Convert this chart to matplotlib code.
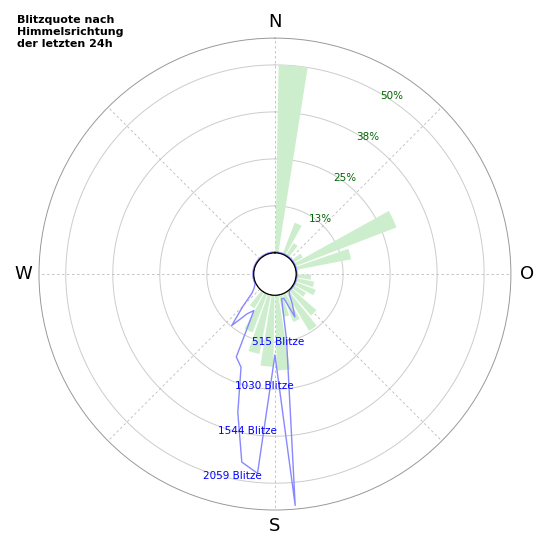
import numpy as np
import matplotlib.pyplot as plt

# Quote in % per 10°-Sektor (Mittelpunkt des Sektors)
sector_deg = [5, 25, 35, 55, 65, 75, 95, 105, 115, 125, 135, 145, 155, 165, 175, 185, 195, 205, 215]
quote_pct = [50, 9, 4, 3, 29, 15, 4, 5, 6, 4, 9, 12, 8, 6, 20, 19, 16, 11, 5]

# Blitze pro 5°-Richtung
line_deg = list(range(0, 360, 5))
blitze = [10] * 72
blitz_vals = {145: 50, 150: 150, 155: 285, 160: 50, 165: 50, 170: 500, 175: 2313,
              180: 655, 185: 1960, 190: 1860, 195: 1340, 200: 855, 205: 770,
              210: 230, 215: 300, 220: 505, 225: 260, 230: 100, 235: 50, 240: 25}
for d, v in blitz_vals.items():
    blitze[line_deg.index(d)] = v

ring_pct = [13, 25, 38, 50]
ring_blitze = [515, 1030, 1544, 2059]

fig = plt.figure(figsize=(5.5, 5.5), dpi=100)
ax = fig.add_axes([0.0709, 0.0727, 0.858, 0.858], projection='polar')
ax.set_theta_zero_location('N')
ax.set_theta_direction(-1)
ax.set_rorigin(-0.45)
ax.set_ylim(0, 4.57)

ax.bar(np.deg2rad(sector_deg), np.array(quote_pct) / 12.5, width=np.deg2rad(8),
       color='#cdeecd', edgecolor='none', zorder=1)

th = np.deg2rad(line_deg + [line_deg[0]])
rr = np.array(blitze + [blitze[0]]) / 515.0
ax.plot(th, rr, color='#8888ff', lw=1, zorder=2)

tc = np.linspace(0, 2 * np.pi, 200)
ax.plot(tc, np.zeros_like(tc), color='black', lw=0.8, zorder=3)

ax.set_yticks([1, 2, 3, 4])
ax.set_yticklabels([])
ax.set_xticks(np.deg2rad([0, 90, 180, 270]))
ax.set_xticklabels(['N', 'O', 'S', 'W'], fontsize=13)
ax.tick_params(axis='x', pad=1)
ax.grid(False)
for r in [1, 2, 3, 4]:
    ax.plot(tc, np.full_like(tc, r), color='#cccccc', lw=0.7, zorder=0)
for a in range(0, 360, 45):
    ax.plot([np.deg2rad(a)] * 2, [0, 4.57], color='#bbbbbb', lw=0.6, ls=(0, (3, 3)), zorder=0)
ax.spines['polar'].set_color('#999999')
ax.spines['polar'].set_linewidth(0.7)

pct_pos = [(39.3, 1.06), (36.1, 2.08), (34.2, 3.08), (33.3, 4.08)]
for p, (a, r) in zip(ring_pct, pct_pos):
    ax.text(np.deg2rad(a), r, f'{p}%', color='darkgreen', fontsize=7.5,
            ha='center', va='center')
blitz_pos = [(177.5, 1.0), (185.6, 1.95), (189.8, 2.94), (192.0, 3.95)]
for b, (a, r) in zip(ring_blitze, blitz_pos):
    ax.text(np.deg2rad(a), r, f'{b} Blitze', color='blue', fontsize=7.5,
            ha='center', va='center')

fig.text(0.031, 0.972, 'Blitzquote nach\nHimmelsrichtung\nder letzten 24h',
         fontsize=8, fontweight='bold', ha='left', va='top', linespacing=1.2)

fig.savefig('out.png', dpi=100)
